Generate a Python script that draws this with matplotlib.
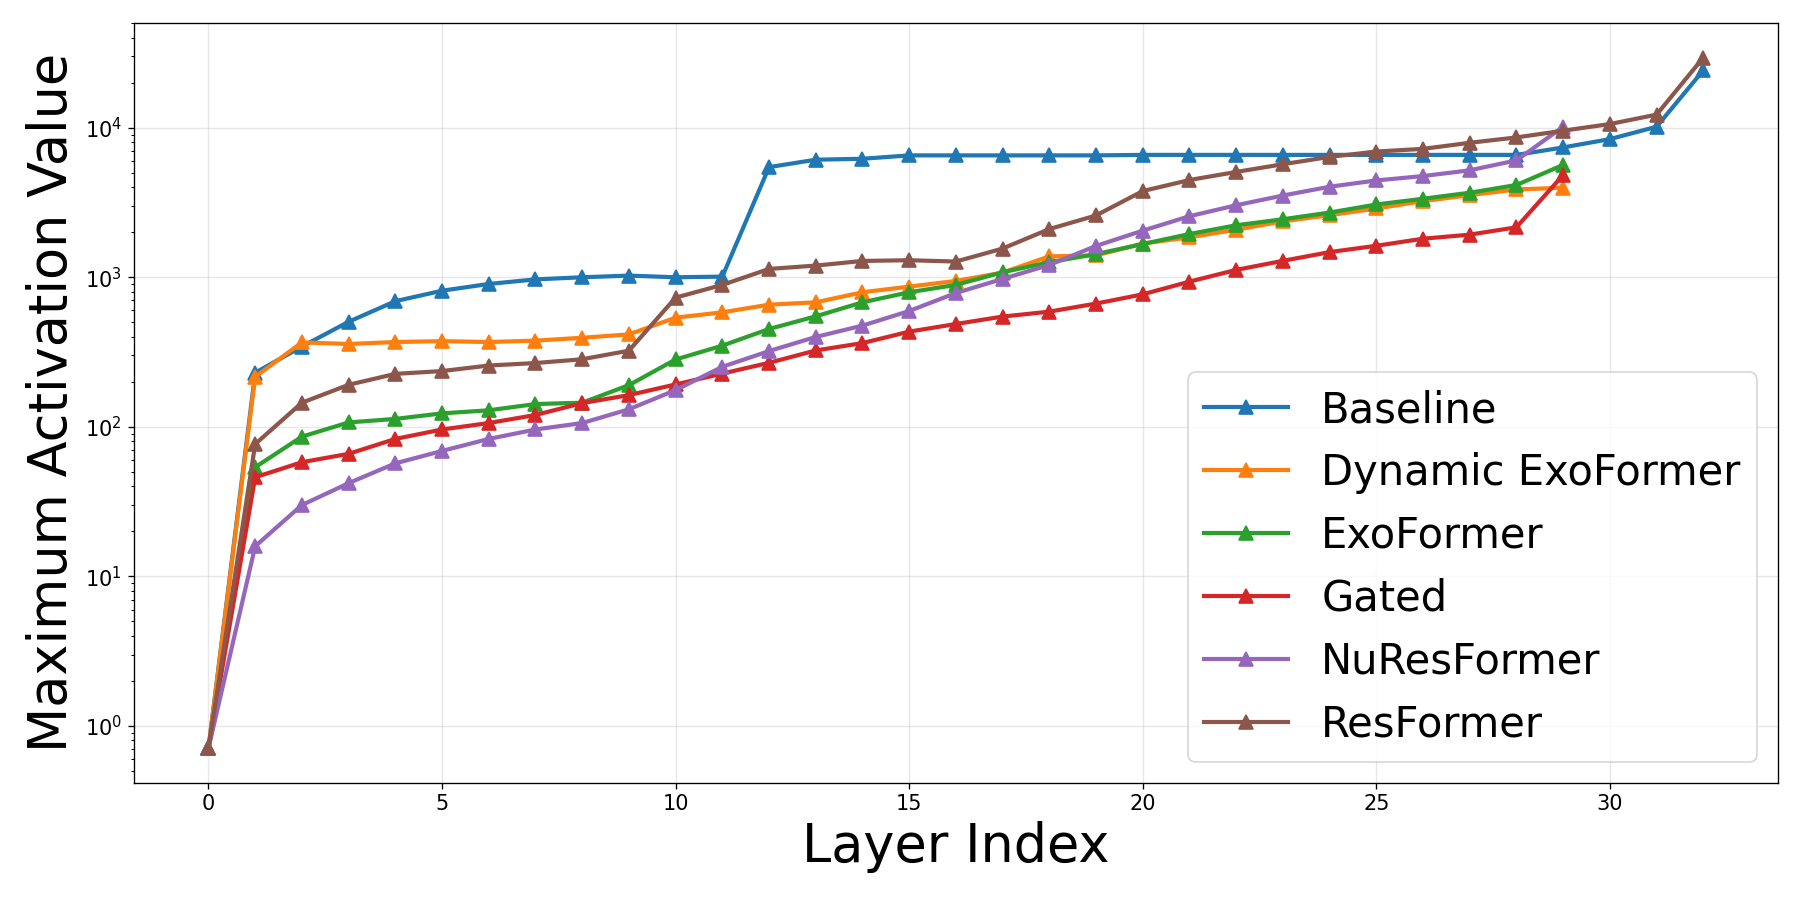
import matplotlib
matplotlib.use("Agg")
import matplotlib.pyplot as plt, numpy as np

# values (log scale)
baseline = [0.71, 230, 344, 504, 692, 813, 902, 968, 1000, 1026, 1000, 1010, 5450, 6110, 6200, 6530, 6530,
            6530, 6530, 6530, 6580, 6580, 6580, 6580, 6580, 6580, 6580, 6580, 6580, 7380, 8390, 10150, 24200]
dyn_exo = [0.71, 216, 367, 358, 369, 374, 369, 377, 394, 415, 537, 583, 656, 680, 794, 866, 945,
           1075, 1380, 1400, 1680, 1849, 2080, 2366, 2600, 2884, 3228, 3540, 3865, 3970]
exo = [0.71, 53.7, 86, 107, 113, 123, 129, 142, 145, 190, 282, 349, 451, 548, 680, 794, 889,
       1080, 1260, 1429, 1668, 1946, 2226, 2443, 2708, 3066, 3350, 3675, 4140, 5640]
gated = [0.71, 46, 58, 66, 83, 96, 106, 120, 144, 163, 192, 227, 268, 324, 363, 433, 487,
         546, 589, 667, 769, 935, 1120, 1288, 1473, 1624, 1811, 1927, 2160, 4830]
nures = [0.71, 15.9, 30, 42, 57, 69, 83, 96, 106, 131, 176, 252, 321, 399, 475, 595, 785,
         975, 1209, 1620, 2050, 2560, 3030, 3520, 4030, 4440, 4750, 5190, 6050, 10150]
resf = [0.71, 76.7, 145, 191, 226, 236, 257, 267, 283, 323, 731, 889, 1137, 1197, 1286, 1300, 1274,
        1556, 2100, 2590, 3770, 4470, 5060, 5700, 6380, 6930, 7220, 7930, 8610, 9550, 10580, 12230, 29440]

series = [("Baseline", baseline), ("Dynamic ExoFormer", dyn_exo), ("ExoFormer", exo),
          ("Gated", gated), ("NuResFormer", nures), ("ResFormer", resf)]

fig = plt.figure(figsize=(15, 7.5), dpi=120)
ax = fig.add_axes([0.0743, 0.1303, 0.9135, 0.8441])
for name, vals in series:
    ax.plot(np.arange(len(vals)), vals, marker="^", linewidth=2.5, markersize=8, label=name)
ax.set_yscale("log")
ax.grid(True, alpha=0.3)
ax.tick_params(labelsize=12.5)
ax.set_xlabel("Layer Index", fontsize=31.5)
ax.set_ylabel("Maximum Activation Value", fontsize=31.5)
ax.legend(loc="lower right", fontsize=25)
fig.savefig("out.png", dpi=120)
plt.close()
